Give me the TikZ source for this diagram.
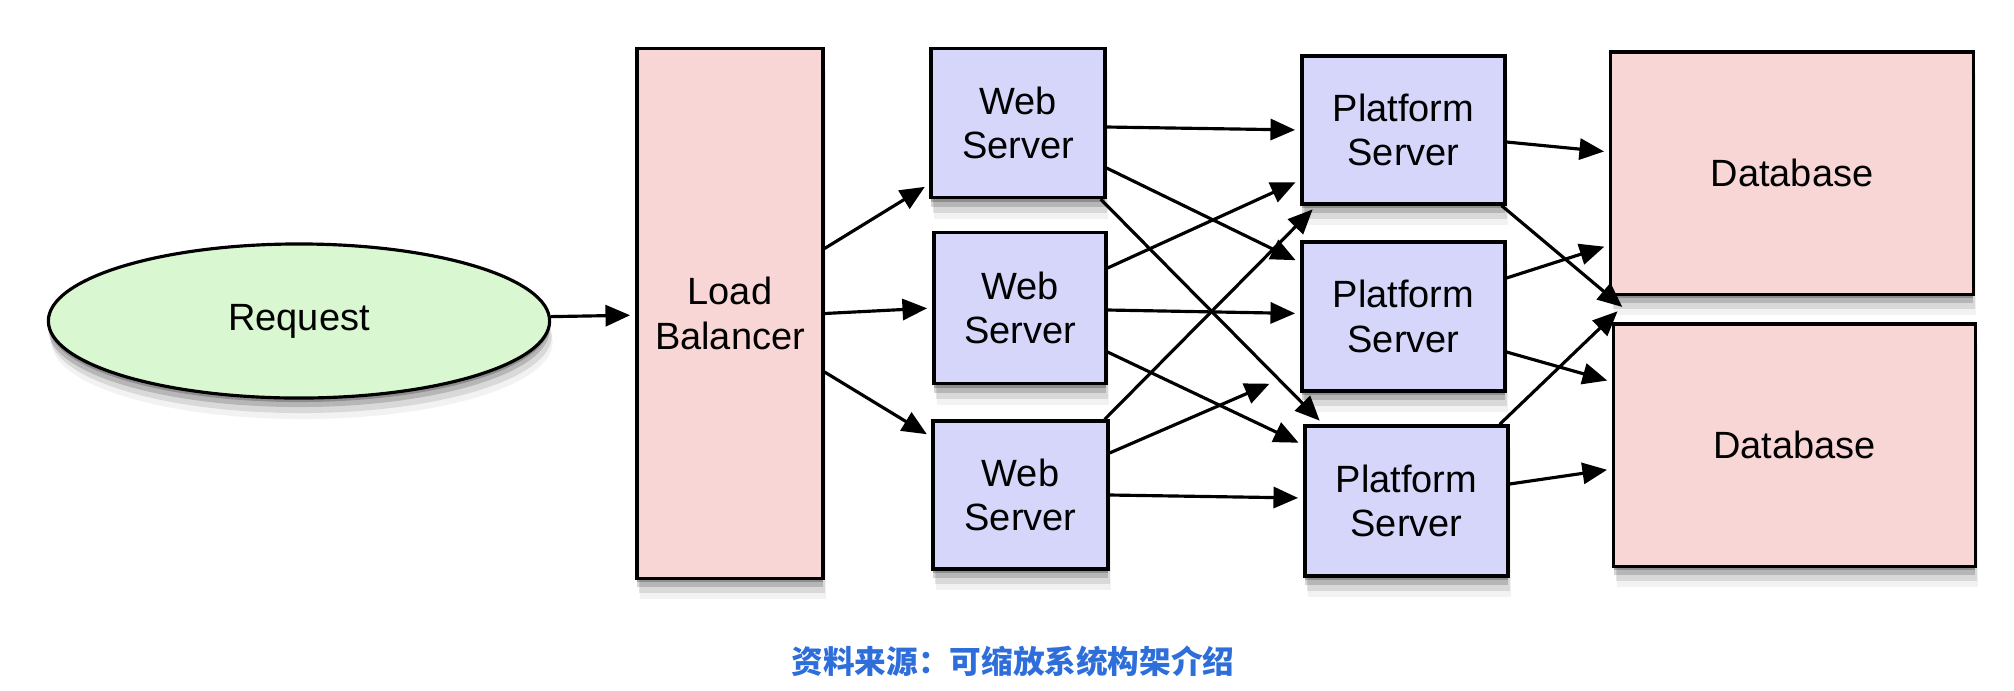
\documentclass[tikz,border=0pt]{standalone}
\usepackage{fontspec}
\setmainfont{Liberation Sans}
\newfontfamily\cjk{Noto Sans CJK SC}
\usetikzlibrary{arrows.meta,shapes.geometric,shadows}
\definecolor{pinkbox}{RGB}{248,214,214}
\definecolor{bluebox}{RGB}{213,214,249}
\definecolor{greenball}{RGB}{217,247,209}
\definecolor{capblue}{RGB}{46,110,218}

\begin{document}
\begin{tikzpicture}[x=0.01cm,y=-0.01cm,
    soft/.style={general shadow={shadow yshift=-0.4mm,opacity=.22,fill=black},
      general shadow={shadow yshift=-0.9mm,opacity=.16,fill=black},
      general shadow={shadow yshift=-1.5mm,shadow xshift=0.2mm,opacity=.1,fill=black},
      general shadow={shadow yshift=-2.1mm,shadow xshift=0.3mm,opacity=.05,fill=black}},
    box/.style={rectangle,draw,line width=0.9pt,soft,align=center,inner sep=0pt,
      font=\fontsize{10.8}{12.6}\selectfont},
    wire/.style={line width=0.9pt,-{Triangle[length=7pt,width=6pt]},shorten >=1.5pt}
  ]
  \useasboundingbox (0,0) rectangle (2014,690);
  \node[box,ellipse,fill=greenball,minimum width=5.01cm,minimum height=1.54cm] (req) at (299,321) {Request};
  \node[box,fill=pinkbox,minimum width=1.86cm,minimum height=5.29cm] (lb) at (730,313.5) {Load\\Balancer};
  \node[box,fill=bluebox,minimum width=1.74cm,minimum height=1.49cm] (w1) at (1018,123) {Web\\Server};
  \node[box,fill=bluebox,minimum width=1.72cm,minimum height=1.51cm] (w2) at (1020,308) {Web\\Server};
  \node[box,fill=bluebox,minimum width=1.75cm,minimum height=1.48cm] (w3) at (1020.5,495) {Web\\Server};
  \node[box,fill=bluebox,minimum width=2.03cm,minimum height=1.48cm] (p1) at (1403.5,130) {Platform\\Server};
  \node[box,fill=bluebox,minimum width=2.03cm,minimum height=1.49cm] (p2) at (1403.5,316.5) {Platform\\Server};
  \node[box,fill=bluebox,minimum width=2.03cm,minimum height=1.50cm] (p3) at (1406.5,501) {Platform\\Server};
  \node[box,fill=pinkbox,minimum width=3.62cm,minimum height=2.42cm] (d1) at (1792,173) {Database};
  \node[box,fill=pinkbox,minimum width=3.61cm,minimum height=2.42cm] (d2) at (1794.5,445) {Database};
  \node[text=capblue,font=\cjk\bfseries\fontsize{9}{11}\selectfont] (cap) at (1013,661) {资料来源：可缩放系统构架介绍};
    \draw[wire] (req) -- (lb);
    \draw[wire] ([yshift=6.5mm]lb.east) -- ([yshift=-6.1mm]w1.west);
    \draw[wire] (lb.east) -- (w2.west);
    \draw[wire] ([yshift=-5.85mm]lb.east) -- ([yshift=5.8mm]w3.west);
    \draw[wire] ([yshift=-0.4mm]w1.east) -- (p1.west);
    \draw[wire] ([yshift=-4.5mm]w1.east) -- ([yshift=5.4mm]p2.west);
    \draw[wire] ([xshift=-0.6mm]w1.south east) -- ([xshift=2mm]p3.north west);
    \draw[wire] ([yshift=4mm]w2.east) -- ([yshift=-5mm]p1.west);
    \draw[wire] ([yshift=-0.2mm]w2.east) -- ([yshift=0.3mm]p2.west);
    \draw[wire] ([yshift=-4.4mm]w2.east) -- ([yshift=5.6mm]p3.west);
    \draw[wire] ([xshift=-0.5mm]w3.north east) -- ([xshift=1.6mm]p1.south west);
    \draw[wire] ([yshift=4.2mm]w3.east) -- ([xshift=-2.6mm,yshift=1.1mm]p2.south west);
    \draw[wire] (w3.east) -- ([yshift=0.3mm]p3.west);
    \draw[wire] ([yshift=-1.2mm]p1.east) -- ([yshift=2.1mm]d1.west);
    \draw[wire] ([xshift=-0.5mm]p1.south east) -- ([xshift=1.4mm,yshift=1.2mm]d2.north west);
    \draw[wire] ([yshift=3.85mm]p2.east) -- ([yshift=-7.2mm]d1.west);
    \draw[wire] ([yshift=-3.55mm]p2.east) -- ([yshift=6.3mm]d2.west);
    \draw[wire] ([xshift=-1mm]p3.north east) -- ([xshift=1.2mm,yshift=-1.2mm]d1.south west);
    \draw[wire] ([yshift=1.7mm]p3.east) -- ([yshift=-2.4mm]d2.west);
\end{tikzpicture}
\end{document}
